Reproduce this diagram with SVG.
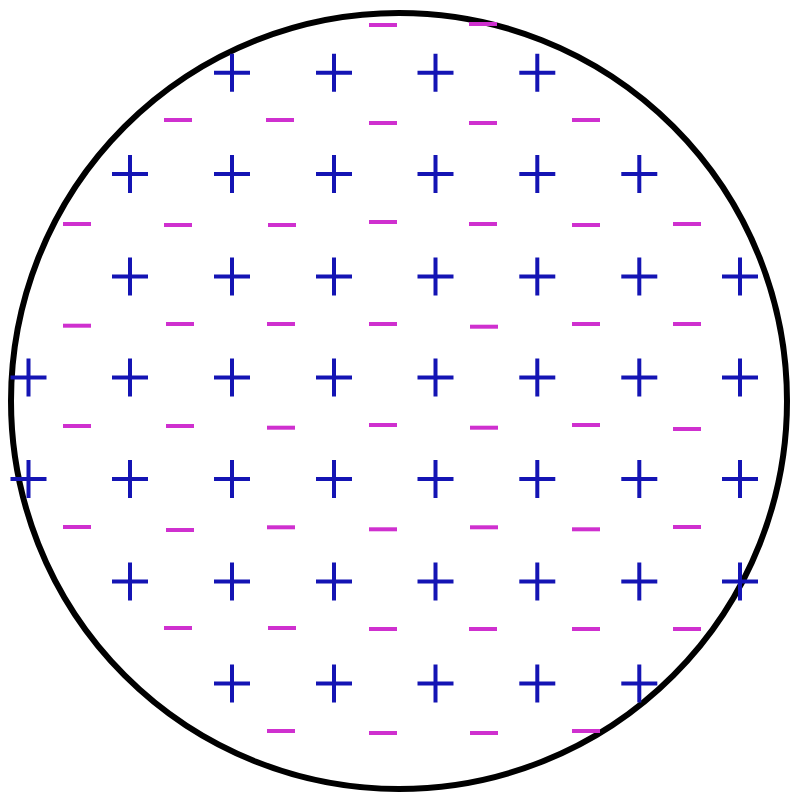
<svg xmlns="http://www.w3.org/2000/svg" xmlns:xlink="http://www.w3.org/1999/xlink" width="792" height="798" viewBox="0 0 792 798">
<style>
.p{stroke:#1414b4;stroke-width:4;fill:none}
.m{stroke:#cf30cf;stroke-width:4;fill:none}
</style>
<defs>
<path id="plus" class="p" d="M-18,0H18M0,-19V19"/>
<path id="minus" class="m" d="M-14,0H14"/>
</defs>
<rect width="792" height="798" fill="#ffffff"/>
<circle cx="399" cy="401" r="388" fill="none" stroke="#000000" stroke-width="6"/>
<g id="plus-charges">
<use href="#plus" x="232" y="72.7"/><use href="#plus" x="334" y="72.7"/><use href="#plus" x="435.5" y="72.7"/><use href="#plus" x="537.3" y="72.7"/>
<use href="#plus" x="130" y="174"/><use href="#plus" x="232" y="174"/><use href="#plus" x="334" y="174"/><use href="#plus" x="435.5" y="174"/><use href="#plus" x="537.3" y="174"/><use href="#plus" x="639.3" y="174"/>
<use href="#plus" x="130" y="276.5"/><use href="#plus" x="232" y="276.5"/><use href="#plus" x="334" y="276.5"/><use href="#plus" x="435.5" y="276.5"/><use href="#plus" x="537.3" y="276.5"/><use href="#plus" x="639.3" y="276.5"/><use href="#plus" x="740" y="276.5"/>
<use href="#plus" x="28.5" y="377.5"/><use href="#plus" x="130" y="377.5"/><use href="#plus" x="232" y="377.5"/><use href="#plus" x="334" y="377.5"/><use href="#plus" x="435.5" y="377.5"/><use href="#plus" x="537.3" y="377.5"/><use href="#plus" x="639.3" y="377.5"/><use href="#plus" x="740" y="377.5"/>
<use href="#plus" x="28.5" y="479"/><use href="#plus" x="130" y="479"/><use href="#plus" x="232" y="479"/><use href="#plus" x="334" y="479"/><use href="#plus" x="435.5" y="479"/><use href="#plus" x="537.3" y="479"/><use href="#plus" x="639.3" y="479"/><use href="#plus" x="740" y="479"/>
<use href="#plus" x="130" y="581.5"/><use href="#plus" x="232" y="581.5"/><use href="#plus" x="334" y="581.5"/><use href="#plus" x="435.5" y="581.5"/><use href="#plus" x="537.3" y="581.5"/><use href="#plus" x="639.3" y="581.5"/><use href="#plus" x="740" y="581.5"/>
<use href="#plus" x="232" y="683.5"/><use href="#plus" x="334" y="683.5"/><use href="#plus" x="435.5" y="683.5"/><use href="#plus" x="537.3" y="683.5"/><use href="#plus" x="639.3" y="683.5"/>
</g>
<g id="minus-charges">
<use href="#minus" x="383" y="25"/><use href="#minus" x="483" y="24"/>
<use href="#minus" x="178" y="120"/><use href="#minus" x="280" y="120"/><use href="#minus" x="383" y="123"/><use href="#minus" x="483" y="123"/><use href="#minus" x="586" y="120"/>
<use href="#minus" x="77" y="224"/><use href="#minus" x="178" y="225"/><use href="#minus" x="282" y="225"/><use href="#minus" x="383" y="222"/><use href="#minus" x="483" y="224"/><use href="#minus" x="586" y="225"/><use href="#minus" x="687" y="224"/>
<use href="#minus" x="77" y="325.7"/><use href="#minus" x="180" y="324"/><use href="#minus" x="281" y="324"/><use href="#minus" x="383" y="324"/><use href="#minus" x="484" y="326.7"/><use href="#minus" x="586" y="324"/><use href="#minus" x="687" y="324"/>
<use href="#minus" x="77" y="426"/><use href="#minus" x="180" y="426"/><use href="#minus" x="281" y="427.7"/><use href="#minus" x="383" y="425"/><use href="#minus" x="484" y="427.7"/><use href="#minus" x="586" y="425"/><use href="#minus" x="687" y="429"/>
<use href="#minus" x="77" y="527"/><use href="#minus" x="180" y="530"/><use href="#minus" x="281" y="527.3"/><use href="#minus" x="383" y="529.3"/><use href="#minus" x="484" y="527.3"/><use href="#minus" x="586" y="529.3"/><use href="#minus" x="687" y="527"/>
<use href="#minus" x="178" y="628"/><use href="#minus" x="282" y="628"/><use href="#minus" x="383" y="629"/><use href="#minus" x="483" y="629"/><use href="#minus" x="586" y="629"/><use href="#minus" x="687" y="629"/>
<use href="#minus" x="281" y="731"/><use href="#minus" x="383" y="733"/><use href="#minus" x="484" y="733"/><use href="#minus" x="586" y="731"/>
</g>
</svg>
